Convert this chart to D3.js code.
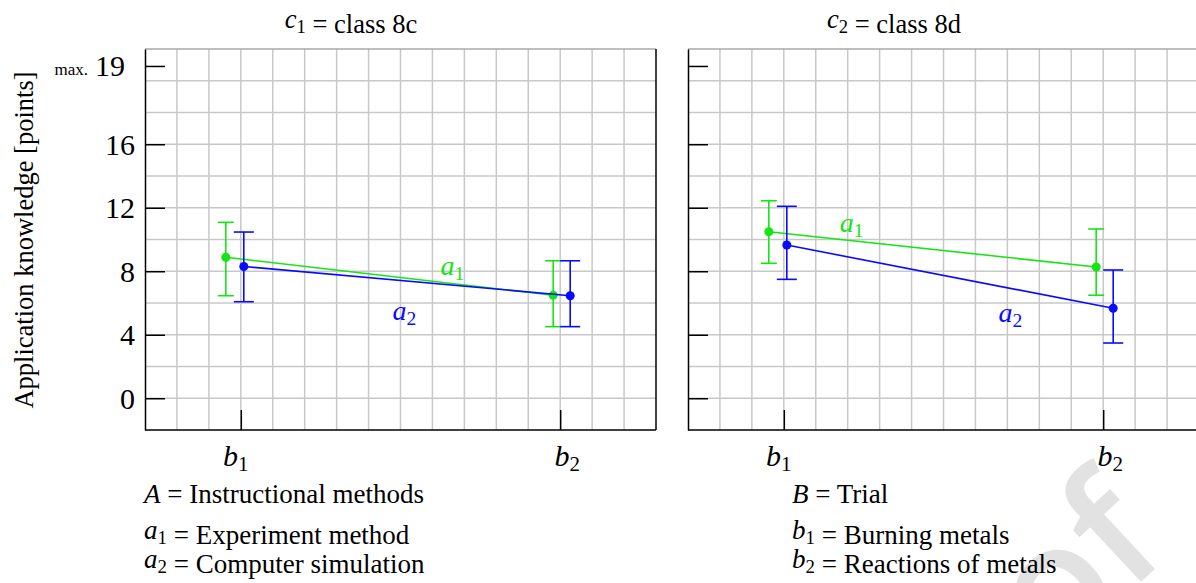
<!DOCTYPE html>
<html>
<head>
<meta charset="utf-8">
<script src="https://cdn.jsdelivr.net/npm/d3@7"></script>
<style>
  body { margin: 0; background: #fff; }
  svg { display: block; font-family: "Liberation Serif", "Times New Roman", serif; }
</style>
</head>
<body>
<div class="viewbox"></div>
<script>
const svg_width = 1196;
const svg_height = 583;

// values
const panelSym = ["c", "c"];
const panelSub = ["1", "2"];
const panelNames = ["class 8c", "class 8d"];
const levels = ["b1", "b2"];
const seriesNames = ["a1", "a2"];
const yTicks = [0, 4, 8, 12, 16];
const yMaxLabel = "19";

// means and error bar ends, [panel][level]
const a1Mean = [[8.88, 6.49], [10.49, 8.27]];
const a2Mean = [[8.30, 6.46], [9.65, 5.67]];
const a1Hi = [[11.08, 8.66], [12.44, 10.66]];
const a1Lo = [[6.46, 4.51], [8.50, 6.49]];
const a2Hi = [[10.47, 8.66], [12.09, 8.08]];
const a2Lo = [[6.08, 4.51], [7.49, 3.48]];

const legendLeft = [["A", "", "Instructional methods"], ["a", "1", "Experiment method"], ["a", "2", "Computer simulation"]];
const legendRight = [["B", "", "Trial"], ["b", "1", "Burning metals"], ["b", "2", "Reactions of metals"]];

// layout stuff
const panelX = [145, 688];
const panelW = 511;
const plotTop = 49, plotBottom = 430;
const colors = { a1: "#14e614", a2: "#0a0aff" };
const capHalf = { a1: 8, a2: 10 };
// series sit a bit off the b ticks (px), per level
const dodge = { a1: [-15, -7], a2: [3, 10] };
// b1 / b2 names aren't quite centred on their ticks
const levelLabelShift = [-5, 7];
// where the a1 / a2 names sit inside each panel (grid cells, y units)
const seriesLabelAt = [
  { a1: [9.25, 7.76], a2: [7.75, 4.93] },
  { a1: [4.75, 10.47], a2: [9.72, 4.80] }
];

let svg = d3.select(".viewbox")
  .append("svg")
  .attr("width", svg_width)
  .attr("height", svg_height);

// watermark in the corner, sits behind everything
svg.append("text")
  .attr("transform", "translate(1172,553) rotate(-43)")
  .attr("text-anchor", "end")
  .style("font-family", "'Open Sans', sans-serif")
  .style("font-weight", 600)
  .style("font-size", "165px")
  .attr("fill", "#e2e2e2")
  .text("Proof");

let y = d3.scaleLinear().domain([-2, 22]).range([plotBottom, plotTop]);
let gx = d3.scaleLinear().domain([0, 16]).range([0, panelW]);
let x = d3.scalePoint().domain(levels).range([gx(3), gx(13)]);

// symbol with a subscript, e.g. a_1
function symSub(txt, sym, sub, size, italic) {
  txt.append("tspan").style("font-style", italic ? "italic" : "normal").text(sym);
  if (sub) {
    txt.append("tspan").attr("font-size", size * 0.7).attr("dy", size * 0.18).text(sub);
    txt.append("tspan").attr("dy", -size * 0.18).text("");
  }
}

const means = { a1: [a1Mean, a1Lo, a1Hi], a2: [a2Mean, a2Lo, a2Hi] };

panelX.forEach((px, p) => {
  let g = svg.append("g").attr("transform", `translate(${px},0)`);

  // grid
  g.selectAll(".vgrid")
    .data(d3.range(1, 16))
    .enter().append("line")
    .attr("x1", d => gx(d)).attr("x2", d => gx(d))
    .attr("y1", plotTop).attr("y2", plotBottom)
    .attr("stroke", "#c8c8c8").attr("stroke-width", 1.5);
  g.selectAll(".hgrid")
    .data(d3.range(0, 22, 2))
    .enter().append("line")
    .attr("x1", 0).attr("x2", panelW)
    .attr("y1", d => y(d)).attr("y2", d => y(d))
    .attr("stroke", "#c8c8c8").attr("stroke-width", 1.5);
  g.append("line")
    .attr("x1", 0).attr("x2", panelW)
    .attr("y1", y(22)).attr("y2", y(22))
    .attr("stroke", "#a8a8a8").attr("stroke-width", 1.5);

  // axes: left + bottom + right border, ticks point inwards
  let yAxis = d3.axisLeft(y).tickValues(yTicks).tickSize(-20).tickSizeOuter(0).tickPadding(10)
    .tickFormat(p === 0 ? d3.format("d") : "");
  let ya = g.append("g").call(yAxis);
  ya.select(".domain").attr("stroke-width", 1.5);
  ya.selectAll(".tick line").attr("stroke-width", 1.5);
  ya.selectAll(".tick text")
    .attr("font-family", "Liberation Serif").attr("font-size", 30).attr("dy", "0.33em");

  // the "max. 19" mark sits near the top
  g.append("line")
    .attr("x1", 0).attr("x2", 20)
    .attr("y1", y(20.9)).attr("y2", y(20.9))
    .attr("stroke", "#000").attr("stroke-width", 1.5);
  if (p === 0) {
    g.append("text")
      .attr("x", -20).attr("y", y(20.9) + 10)
      .attr("text-anchor", "end").attr("font-size", 30)
      .text(yMaxLabel);
    g.append("text")
      .attr("x", -57).attr("y", y(20.9) + 9)
      .attr("text-anchor", "end").attr("font-size", 17)
      .text("max.");
  }

  g.append("line")
    .attr("x1", 0).attr("x2", panelW)
    .attr("y1", plotBottom).attr("y2", plotBottom)
    .attr("stroke", "#000").attr("stroke-width", 1.5);
  g.append("line")
    .attr("x1", panelW).attr("x2", panelW)
    .attr("y1", plotTop).attr("y2", plotBottom)
    .attr("stroke", "#000").attr("stroke-width", 1.5);

  let xAxis = d3.axisBottom(x).tickSize(-20).tickSizeOuter(0).tickFormat("");
  let xa = g.append("g").attr("transform", `translate(0,${plotBottom})`).call(xAxis);
  xa.select(".domain").remove();
  xa.selectAll(".tick line").attr("stroke-width", 1.5);

  // b1 / b2 under the axis
  levels.forEach((l, i) => {
    let t = g.append("text")
      .attr("x", x(l) + levelLabelShift[i]).attr("y", 466)
      .attr("text-anchor", "middle").attr("font-size", 30);
    symSub(t, l[0], l[1], 30, true);
  });

  // panel title
  let title = g.append("text")
    .attr("x", 206).attr("y", 28)
    .attr("text-anchor", "middle").attr("font-size", 26.5);
  symSub(title, panelSym[p], panelSub[p], 26.5, true);
  title.append("tspan").text(" = " + panelNames[p]);

  // lines, error bars, dots
  seriesNames.forEach(s => {
    let [m, lo, hi] = means[s];
    let pts = levels.map((l, i) => ({
      x: x(l) + dodge[s][i], m: m[p][i], lo: lo[p][i], hi: hi[p][i]
    }));

    g.append("path")
      .datum(pts)
      .attr("fill", "none")
      .attr("stroke", colors[s]).attr("stroke-width", 1.6)
      .attr("d", d3.line().x(d => d.x).y(d => y(d.m)));

    let eb = g.selectAll(".eb-" + s).data(pts).enter().append("g")
      .attr("stroke", colors[s]).attr("stroke-width", 1.6);
    eb.append("line")
      .attr("x1", d => d.x).attr("x2", d => d.x)
      .attr("y1", d => y(d.lo)).attr("y2", d => y(d.hi));
    eb.append("line")
      .attr("x1", d => d.x - capHalf[s]).attr("x2", d => d.x + capHalf[s])
      .attr("y1", d => y(d.hi)).attr("y2", d => y(d.hi));
    eb.append("line")
      .attr("x1", d => d.x - capHalf[s]).attr("x2", d => d.x + capHalf[s])
      .attr("y1", d => y(d.lo)).attr("y2", d => y(d.lo));

    g.selectAll(".dot-" + s).data(pts).enter().append("circle")
      .attr("cx", d => d.x).attr("cy", d => y(d.m))
      .attr("r", 4.5).attr("fill", colors[s]);

    let [lx, ly] = seriesLabelAt[p][s];
    let lab = g.append("text")
      .attr("x", gx(lx)).attr("y", y(ly))
      .attr("font-size", 28).attr("fill", colors[s]);
    symSub(lab, s[0], s[1], 28, true);
  });
});

// y title
svg.append("text")
  .attr("transform", "translate(33,240) rotate(-90)")
  .attr("text-anchor", "middle").attr("font-size", 26.5)
  .text("Application knowledge [points]");

// legends under the panels
const legendRows = [503, 539, 568];
[[legendLeft, 144], [legendRight, 792]].forEach(([rows, lx]) => {
  rows.forEach((r, i) => {
    let t = svg.append("text")
      .attr("x", lx).attr("y", legendRows[i])
      .attr("font-size", 27);
    symSub(t, r[0], r[1], 27, true);
    t.append("tspan").text(" = " + r[2]);
  });
});
</script>
</body>
</html>
